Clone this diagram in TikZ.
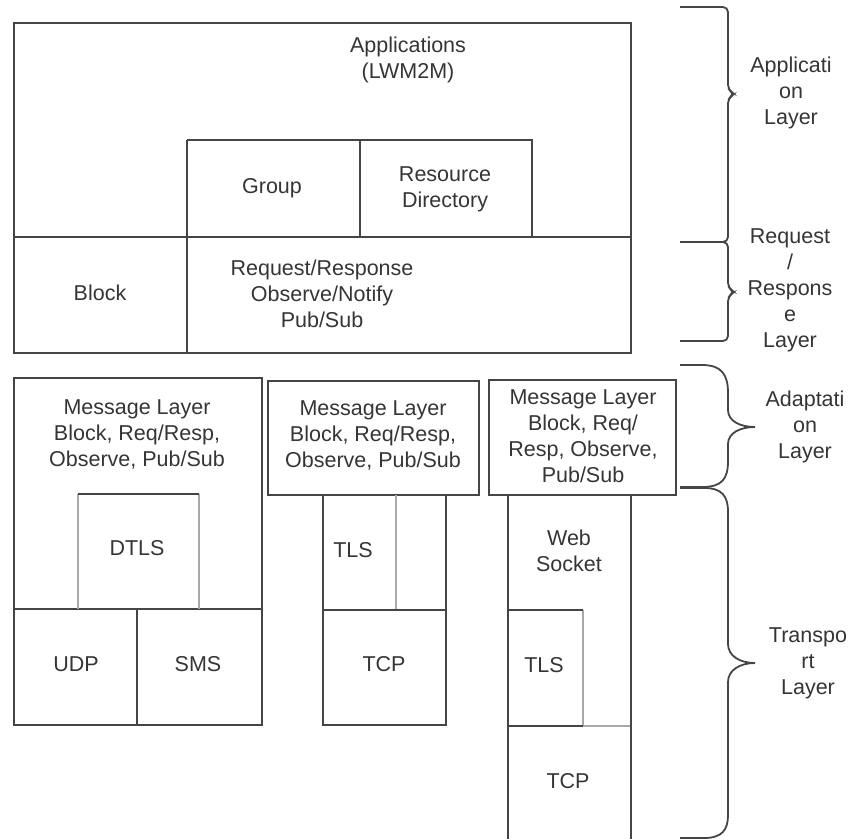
\documentclass[tikz,border=0pt]{standalone}
\usepackage{fontspec}
\setmainfont{Liberation Sans}
\definecolor{ln}{HTML}{454545}
\definecolor{lt}{HTML}{A8A8A8}
\definecolor{tx}{HTML}{353535}
\begin{document}
\begin{tikzpicture}[x=1pt,y=-1pt,
  box/.style={draw=ln,line width=1.8pt},
  thin/.style={draw=lt,line width=1.5pt},
  lbl/.style={inner sep=0pt,align=center,text=tx,font=\fontsize{21.5}{26}\selectfont},
  brace/.style={draw=ln,line width=1.8pt}]
\useasboundingbox (0,0) rectangle (864,839);
% ---------- top block ----------
\draw[box] (14,23) rectangle (631,353);
\draw[box] (14,237) -- (631,237);
\draw[box] (187,140) -- (187,353);
\draw[box] (187,140) -- (532,140) -- (532,237);
\draw[box] (360,140) -- (360,237);
\node[lbl] (app) at (408,60) {Applications\\(LWM2M)};
\node[lbl] (group) at (272,188) {Group};
\node[lbl] (rd) at (445,189) {Resource\\Directory};
\node[lbl] (block) at (100,293) {Block};
\node[lbl] (rr) at (322,294) {Request/Response\\Observe/Notify\\Pub/Sub};
% ---------- stack 1 ----------
\draw[box] (14,378) rectangle (262,725);
\draw[box] (14,609) -- (262,609);
\draw[box] (137,609) -- (137,725);
\draw[thin] (78,494) -- (78,609);
\draw[thin] (199,494) -- (199,609);
\draw[box] (78,494) -- (199,494);
\node[lbl] (msg1) at (137,434) {Message Layer\\Block, Req/Resp,\\Observe, Pub/Sub};
\node[lbl] (dtls) at (137,548) {DTLS};
\node[lbl] (udp) at (76,664) {UDP};
\node[lbl] (sms) at (198,664) {SMS};
% ---------- stack 2 ----------
\draw[box] (268,381) rectangle (479,495);
\draw[thin] (396,495) -- (396,610);
\draw[box] (323,495) -- (323,725) -- (446,725) -- (446,495);
\draw[box] (323,610) -- (446,610);
\node[lbl] (msg2) at (373,435) {Message Layer\\Block, Req/Resp,\\Observe, Pub/Sub};
\node[lbl] (tls2) at (353,550) {TLS};
\node[lbl] (tcp2) at (384,664) {TCP};
% ---------- stack 3 ----------
\draw[box] (489,380) rectangle (676,495);
\draw[thin] (583,610) -- (583,726);
\draw[thin] (583,726) -- (631,726);
\draw[box] (508,610) -- (583,610);
\draw[box] (508,726) -- (583,726);
\draw[box] (508,495) -- (508,839);
\draw[box] (631,495) -- (631,839);
\node[lbl] (msg3) at (583,436) {Message Layer\\Block, Req/\\Resp, Observe,\\Pub/Sub};
\node[lbl] (ws) at (569,551) {Web\\Socket};
\node[lbl] (tls3) at (544,665) {TLS};
\node[lbl] (tcp3) at (568,781) {TCP};
% ---------- braces ----------
\draw[brace,rounded corners=5pt] (680,7) -- (728,7) -- (728,90) -- (735,94) -- (728,98) -- (728,242) -- (680,242);
\draw[brace,rounded corners=5pt] (680,242) -- (728,242) -- (728,288) -- (735,292) -- (728,296) -- (728,341) -- (680,341);
\draw[brace] (680,365) -- (702,365) .. controls (722,365) and (728,375) .. (728,393)
  -- (728,410) .. controls (728,421) and (740,427) .. (755,427)
  .. controls (740,427) and (728,433) .. (728,444)
  -- (728,461) .. controls (728,479) and (722,487) .. (702,487) -- (680,487);
\draw[brace] (680,488) -- (704,488) .. controls (722,488) and (728,496) .. (728,512)
  -- (728,644) .. controls (728,656) and (740,663) .. (755,663)
  .. controls (740,663) and (728,670) .. (728,682)
  -- (728,815) .. controls (728,830) and (722,838) .. (704,838) -- (680,838);
\node[lbl] (lapp) at (791,93) {Applicati\\on\\Layer};
\node[lbl] (lreq) at (790,290) {Request\\/\\Respons\\e\\Layer};
\node[lbl] (ladp) at (805,427) {Adaptati\\on\\Layer};
\node[lbl] (ltr) at (808,663) {Transpo\\rt\\Layer};
\end{tikzpicture}
\end{document}
